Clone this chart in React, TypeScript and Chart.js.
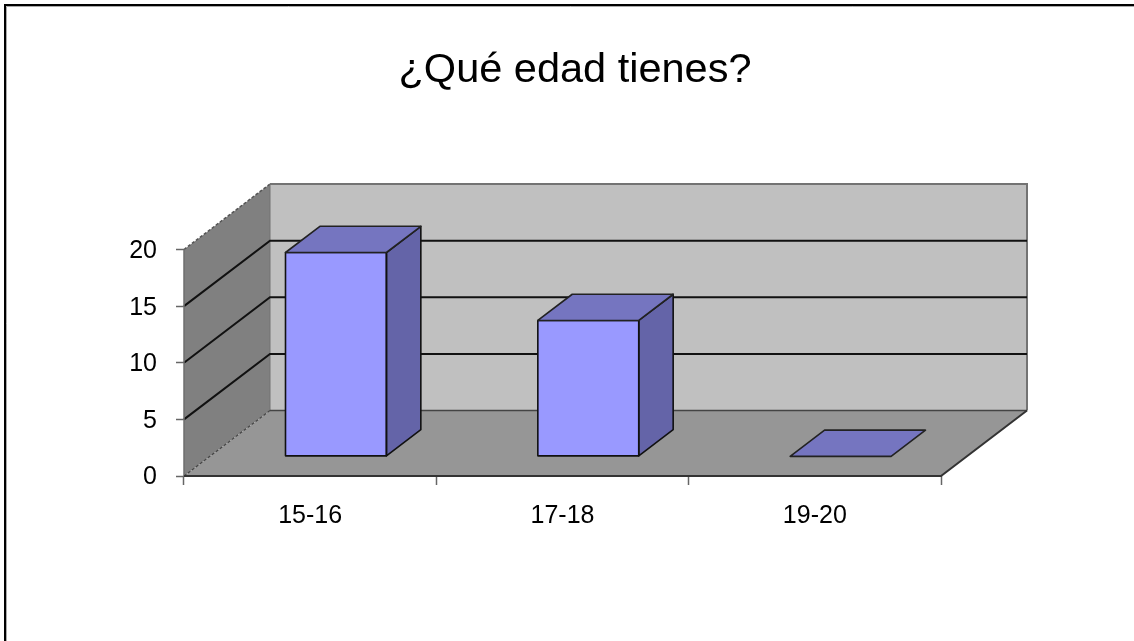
import React, { useEffect, useRef } from "react";
import { Chart, registerables } from "chart.js";

Chart.register(...registerables);

const title = "¿Qué edad tienes?";
const categories = ["15-16", "17-18", "19-20"];
const respondents = [18, 12, 0];
const yTicks = [0, 5, 10, 15, 20];

const FONT = "'Liberation Sans', Arial, sans-serif";
const DEPTH_X = 86;
const DEPTH_Y = -65.5;
const BAR_DEPTH_START = 0.3;
const BAR_DEPTH_END = 0.7;

function poly(ctx: CanvasRenderingContext2D, pts: number[][], fill?: string, stroke?: string, lw = 1) {
  ctx.beginPath();
  pts.forEach((p, i) => (i ? ctx.lineTo(p[0], p[1]) : ctx.moveTo(p[0], p[1])));
  ctx.closePath();
  if (fill) {
    ctx.fillStyle = fill;
    ctx.fill();
  }
  if (stroke) {
    ctx.strokeStyle = stroke;
    ctx.lineWidth = lw;
    ctx.stroke();
  }
}

function line(ctx: CanvasRenderingContext2D, pts: number[][], stroke: string, lw = 1, dash: number[] = []) {
  ctx.beginPath();
  pts.forEach((p, i) => (i ? ctx.lineTo(p[0], p[1]) : ctx.moveTo(p[0], p[1])));
  ctx.strokeStyle = stroke;
  ctx.lineWidth = lw;
  ctx.setLineDash(dash);
  ctx.stroke();
  ctx.setLineDash([]);
}

const scene3d = {
  id: "scene3d",
  afterLayout(chart: any) {
    // title centre sits right of the canvas middle
    if (chart.titleBlock) {
      chart.titleBlock.left = 0;
      chart.titleBlock.right = 1150;
    }
  },
  beforeDraw(chart: any) {
    const ctx = chart.ctx;
    ctx.save();
    line(ctx, [[5, 641], [5, 5], [1134, 5]], "#000", 2);
    line(ctx, [[6.5, 641], [6.5, 6.5], [1134, 6.5]], "#aaa", 1);
    ctx.restore();
  },
  beforeDatasetsDraw(chart: any) {
    const ctx = chart.ctx;
    const { x, y } = chart.scales;
    const l = x.left, r = x.right;
    const b = y.getPixelForValue(0), t = y.getPixelForValue(20);
    ctx.save();
    // back wall
    poly(ctx, [[l + DEPTH_X, t + DEPTH_Y], [r + DEPTH_X, t + DEPTH_Y], [r + DEPTH_X, b + DEPTH_Y], [l + DEPTH_X, b + DEPTH_Y]], "#c0c0c0");
    // left wall
    poly(ctx, [[l, t], [l + DEPTH_X, t + DEPTH_Y], [l + DEPTH_X, b + DEPTH_Y], [l, b]], "#808080");
    // floor
    poly(ctx, [[l, b], [l + DEPTH_X, b + DEPTH_Y], [r + DEPTH_X, b + DEPTH_Y], [r, b]], "#969696");
    // wall outlines
    line(ctx, [[l, t], [l + DEPTH_X, t + DEPTH_Y]], "#555", 1.5, [3, 2]);
    line(ctx, [[l + DEPTH_X, t + DEPTH_Y], [r + DEPTH_X, t + DEPTH_Y], [r + DEPTH_X, b + DEPTH_Y]], "#737373", 2);
    line(ctx, [[l + DEPTH_X, t + DEPTH_Y], [l + DEPTH_X, b + DEPTH_Y]], "#737373", 1);
    // gridlines on the two walls
    yTicks.filter((v) => v > 0 && v < 20).forEach((v) => {
      const py = y.getPixelForValue(v);
      line(ctx, [[l, py], [l + DEPTH_X, py + DEPTH_Y], [r + DEPTH_X, py + DEPTH_Y]], "#111", 2);
    });
    // floor edges
    line(ctx, [[l + DEPTH_X, b + DEPTH_Y], [r + DEPTH_X, b + DEPTH_Y]], "#444", 1.5);
    line(ctx, [[l, b], [l + DEPTH_X, b + DEPTH_Y]], "#444", 1.2, [3, 2]);
    line(ctx, [[l, t], [l, b]], "#6e6e6e", 1.5);
    line(ctx, [[l, b], [r, b], [r + DEPTH_X, b + DEPTH_Y]], "#333", 2);
    ctx.restore();
  },
  beforeDatasetDraw(chart: any) {
    const ctx = chart.ctx;
    ctx.save();
    ctx.translate(DEPTH_X * BAR_DEPTH_START, DEPTH_Y * BAR_DEPTH_START);
  },
  afterDatasetDraw(chart: any) {
    chart.ctx.restore();
  },
  afterDatasetsDraw(chart: any) {
    const ctx = chart.ctx;
    const meta = chart.getDatasetMeta(0);
    const ox = DEPTH_X * BAR_DEPTH_START, oy = DEPTH_Y * BAR_DEPTH_START;
    const ddx = DEPTH_X * (BAR_DEPTH_END - BAR_DEPTH_START);
    const ddy = DEPTH_Y * (BAR_DEPTH_END - BAR_DEPTH_START);
    ctx.save();
    ctx.lineJoin = "round";
    meta.data.forEach((el: any) => {
      const { x, y, base, width } = el.getProps(["x", "y", "base", "width"], true);
      const l = x - width / 2 + ox, r = x + width / 2 + ox;
      const top = y + oy, bot = base + oy;
      if (bot - top > 0.5) {
        poly(ctx, [[r, top], [r + ddx, top + ddy], [r + ddx, bot + ddy], [r, bot]], "#6464a8", "#111", 1.6);
        poly(ctx, [[l, top], [r, top], [r, bot], [l, bot]], undefined, "#111", 1.6);
      }
      poly(ctx, [[l, top], [r, top], [r + ddx, top + ddy], [l + ddx, top + ddy]], "#7575c0", "#222", 1.6);
    });
    ctx.restore();
  },
};

export default function App() {
  const ref = useRef<HTMLCanvasElement>(null);
  useEffect(() => {
    if (!ref.current) return;
    const chart = new Chart(ref.current, {
      type: "bar",
      data: {
        labels: categories,
        datasets: [
          {
            data: respondents,
            backgroundColor: "#9999ff",
            borderWidth: 0,
            barPercentage: 0.4,
            categoryPercentage: 1,
            clip: false,
          } as any,
        ],
      },
      plugins: [scene3d],
      options: {
        responsive: false,
        animation: false,
        layout: { padding: { left: 0, right: 193, top: 0, bottom: 0 } },
        plugins: {
          legend: { display: false },
          tooltip: { enabled: false },
          title: {
            display: true,
            text: title,
            color: "#000",
            font: { family: FONT, size: 41.5, weight: "normal" },
            padding: { top: 45.6, bottom: 154.1 },
          },
        },
        scales: {
          x: {
            afterFit(s: any) {
              s.height = 165;
            },
            grid: { drawOnChartArea: false, color: "#666", tickLength: 9, tickWidth: 1.5 },
            border: { display: false },
            ticks: { color: "#000", font: { family: FONT, size: 25 }, padding: 16, maxRotation: 0 },
          },
          y: {
            min: 0,
            max: 20,
            afterFit(s: any) {
              s.width = 184;
            },
            grid: { drawOnChartArea: false, color: "#666", tickLength: 8, tickWidth: 1.5 },
            border: { display: false },
            ticks: { stepSize: 5, color: "#000", font: { family: FONT, size: 25 }, padding: 19, labelOffset: 1.5 },
          },
        },
      },
    });
    return () => chart.destroy();
  }, []);
  return (
    <canvas
      ref={ref}
      width={1134}
      height={641}
      style={{ position: "fixed", left: 0, top: 0, display: "block", background: "#fff" }}
    />
  );
}
